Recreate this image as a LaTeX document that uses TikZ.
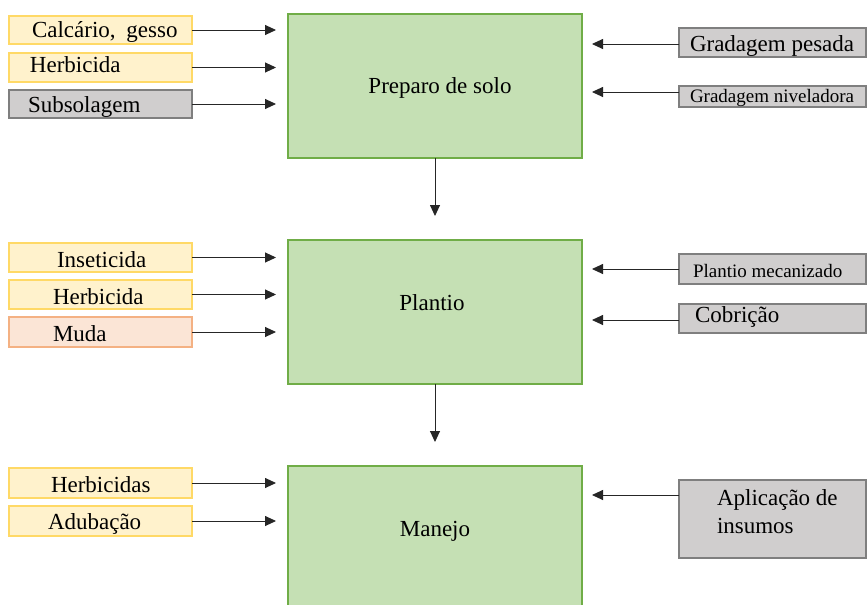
\documentclass[tikz,border=0pt]{standalone}
\usepackage{fontspec}
\setmainfont{Liberation Serif}
\usetikzlibrary{arrows.meta}
\definecolor{gfill}{HTML}{C5E0B4}
\definecolor{gline}{HTML}{70AD47}
\definecolor{yfill}{HTML}{FFF2CC}
\definecolor{yline}{HTML}{FFD966}
\definecolor{sfill}{HTML}{D0CECE}
\definecolor{sline}{HTML}{7F7F7F}
\definecolor{ofill}{HTML}{FBE5D6}
\definecolor{oline}{HTML}{F4B183}
\begin{document}
\begin{tikzpicture}[x=1pt,y=-1pt,
  every node/.style={inner sep=0pt, outer sep=0pt},
  mainbox/.style={draw=gline, fill=gfill, line width=1.6pt, anchor=north west,
    minimum width=294pt, font=\fontsize{23}{28}\selectfont},
  ybox/.style={draw=yline, fill=yfill, line width=1.6pt, anchor=north west, minimum width=183pt},
  sbox/.style={draw=sline, fill=sfill, line width=1.4pt, anchor=north west},
  obox/.style={draw=oline, fill=ofill, line width=1.6pt, anchor=north west, minimum width=183pt},
  lbl/.style={anchor=base west, font=\fontsize{23}{28}\selectfont},
  slbl/.style={anchor=base west, font=\fontsize{19}{23}\selectfont},
  arr/.style={-{Triangle[length=11pt,width=10pt]}, line width=0.9pt, black!85}
]
\useasboundingbox (0,0) rectangle (868,605);
\clip (0,0) rectangle (868,605);
\fill[white] (0,0) rectangle (868,605);

% main boxes
\node[mainbox, minimum height=144pt] (prep) at (288,14) {};
\node[mainbox, minimum height=144pt] (plan) at (288,240) {};
\node[mainbox, minimum height=160pt] (man) at (288,466) {};
\node[lbl, anchor=center] (tprep) at (440,88) {Preparo de solo};
\node[lbl, anchor=center] (tplan) at (432,303) {Plantio};
\node[lbl, anchor=center] (tman) at (435,531) {Manejo};

% left boxes - preparo
\node[ybox, minimum height=28pt] (calc) at (9,16) {};
\node[lbl] (tcalc) at (32,37) {Calcário,\hspace{5pt} gesso};
\node[ybox, minimum height=29pt] (herb1) at (9,53) {};
\node[lbl] (therb1) at (30,72) {Herbicida};
\node[sbox, minimum width=183pt, minimum height=28pt] (subs) at (9,90) {};
\node[lbl] (tsubs) at (28,112) {Subsolagem};

% left boxes - plantio
\node[ybox, minimum height=29pt] (ins) at (9,243) {};
\node[lbl] (tins) at (57,267) {Inseticida};
\node[ybox, minimum height=29pt] (herb2) at (9,280) {};
\node[lbl] (therb2) at (53,304) {Herbicida};
\node[obox, minimum height=30pt] (muda) at (9,317) {};
\node[lbl] (tmuda) at (53,341) {Muda};

% left boxes - manejo
\node[ybox, minimum height=30pt] (herbs) at (9,468) {};
\node[lbl] (therbs) at (51,492) {Herbicidas};
\node[ybox, minimum height=30pt] (adub) at (9,506) {};
\node[lbl] (tadub) at (48,529) {Adubação};

% right boxes
\node[sbox, minimum width=187pt, minimum height=29pt] (gp) at (679,28) {};
\node[lbl] (tgp) at (690,51) {Gradagem pesada};
\node[sbox, minimum width=187pt, minimum height=21pt] (gn) at (679,86) {};
\node[slbl] (tgn) at (690,102) {Gradagem niveladora};
\node[sbox, minimum width=187pt, minimum height=30pt] (pm) at (679,254) {};
\node[slbl] (tpm) at (693,277) {Plantio mecanizado};
\node[sbox, minimum width=187pt, minimum height=29pt] (cob) at (679,304) {};
\node[lbl] (tcob) at (695,322) {Cobrição};
\node[sbox, minimum width=187pt, minimum height=78pt] (ap) at (679,480) {};
\node[lbl] (tap1) at (717,505) {Aplicação de};
\node[lbl] (tap2) at (717,533) {insumos};

% arrows left -> main
\foreach \s/\t in {calc/prep, herb1/prep, subs/prep, ins/plan, herb2/plan, muda/plan, herbs/man, adub/man}
  \draw[arr, shorten >=12pt] (\s.east) -- (\s.east -| \t.west);

% arrows right -> main
\draw[arr, shorten >=10pt] ([yshift=-1.5pt]gp.west) -- ([yshift=-1.5pt]gp.west -| prep.east);
\draw[arr, shorten >=10pt] ([yshift=4.5pt]gn.west) -- ([yshift=4.5pt]gn.west -| prep.east);
\draw[arr, shorten >=10pt] (pm.west) -- (pm.west -| plan.east);
\draw[arr, shorten >=10pt] ([yshift=-1.5pt]cob.west) -- ([yshift=-1.5pt]cob.west -| plan.east);
\draw[arr, shorten >=10pt] ([yshift=24pt]ap.west) -- ([yshift=24pt]ap.west -| man.east);

% down arrows
\draw[arr, shorten >=24pt] (prep.south) -- (plan.north);
\draw[arr, shorten >=24pt] (plan.south) -- (man.north);
\end{tikzpicture}
\end{document}
